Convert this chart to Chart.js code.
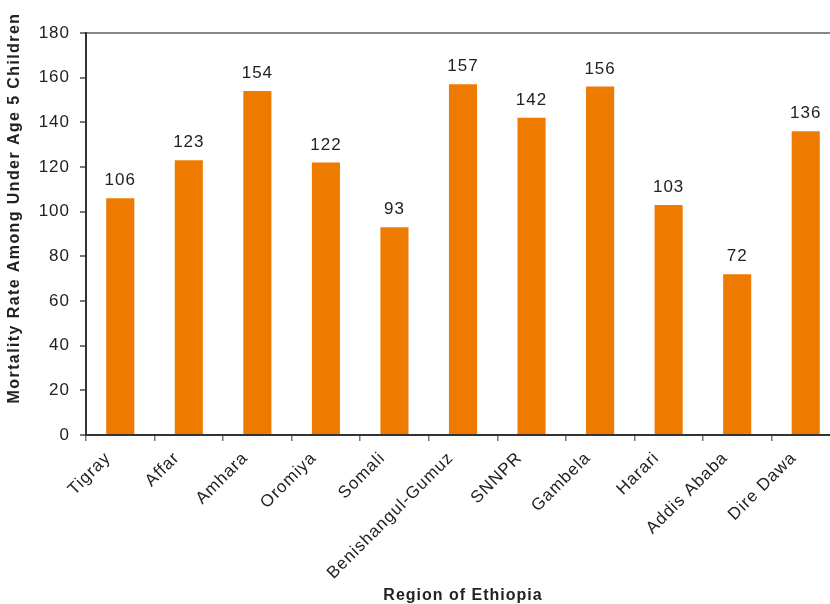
<!DOCTYPE html>
<html>
<head>
<meta charset="utf-8">
<title>Under-5 Mortality by Region</title>
<script src="https://cdn.jsdelivr.net/npm/chart.js@4/dist/chart.umd.min.js"></script>
<style>
  html, body { margin: 0; padding: 0; background: #fff; overflow: hidden; }
  #wrap { width: 830px; height: 604px; overflow: hidden; }
</style>
</head>
<body>
<div id="wrap"><canvas id="mortalityChart" width="850" height="604"></canvas></div>
<script>
  const regions = ['Tigray', 'Affar', 'Amhara', 'Oromiya', 'Somali', 'Benishangul-Gumuz',
                   'SNNPR', 'Gambela', 'Harari', 'Addis Ababa', 'Dire Dawa'];
  const mortality = [106, 123, 154, 122, 93, 157, 142, 156, 103, 72, 136];
  const yTicks = [0, 20, 40, 60, 80, 100, 120, 140, 160, 180];

  const FONT = "'Liberation Sans', Arial, sans-serif";

  // slightly airy lettering for all text on the canvas
  const spacing = {
    id: 'spacing',
    beforeDraw(chart) { chart.ctx.letterSpacing = '1px'; }
  };

  // value above each bar
  const barValues = {
    id: 'barValues',
    afterDatasetsDraw(chart) {
      const ctx = chart.ctx;
      ctx.save();
      ctx.font = '17px ' + FONT;
      ctx.fillStyle = '#222';
      ctx.textAlign = 'center';
      ctx.textBaseline = 'alphabetic';
      chart.getDatasetMeta(0).data.forEach((bar, i) => {
        ctx.fillText(mortality[i], bar.x, bar.y - 13);
      });
      ctx.restore();
    }
  };

  // y axis title, drawn by hand so it can sit a bit higher than the plot centre
  const yTitle = {
    id: 'yTitle',
    afterDraw(chart) {
      const ctx = chart.ctx;
      ctx.save();
      ctx.translate(15, 208);
      ctx.rotate(-Math.PI / 2);
      ctx.font = 'bold 16px ' + FONT;
      ctx.letterSpacing = '1.4px';
      ctx.fillStyle = '#222';
      ctx.textAlign = 'center';
      ctx.textBaseline = 'middle';
      ctx.fillText('Mortality Rate Among Under Age 5 Children', 0, 0);
      ctx.restore();
    }
  };

  const ctx = document.getElementById('mortalityChart').getContext('2d');
  const mortalityChart = new Chart(ctx, {
    type: 'bar',
    data: {
      labels: regions,
      datasets: [{
        data: mortality,
        backgroundColor: '#EE7B00',
        barPercentage: 0.41,
        categoryPercentage: 1
      }]
    },
    options: {
      responsive: false,
      animation: false,
      layout: { padding: { top: 33, right: 10, left: 0, bottom: 0 } },
      plugins: {
        legend: { display: false },
        tooltip: { enabled: false }
      },
      scales: {
        x: {
          grid: {
            offset: true,
            drawOnChartArea: false,
            tickLength: 6,
            tickColor: '#777',
            lineWidth: 1.5
          },
          border: { color: '#333', width: 2 },
          ticks: {
            color: '#222',
            font: { family: FONT, size: 17 },
            maxRotation: 45,
            minRotation: 45,
            autoSkip: false,
            padding: 7,
            labelOffset: -12
          },
          title: {
            display: true,
            text: 'Region of Ethiopia',
            color: '#222',
            font: { family: FONT, size: 16, weight: 'bold', lineHeight: 1 },
            padding: { top: 0, bottom: 0 }
          },
          afterFit(scale) { scale.height = 169; }
        },
        y: {
          min: 0,
          max: 180,
          afterBuildTicks(scale) { scale.ticks = yTicks.map(v => ({ value: v })); },
          grid: {
            color: c => (c.tick && c.tick.value === 180 ? '#888' : 'rgba(0,0,0,0)'),
            lineWidth: 2,
            tickLength: 6,
            tickColor: '#777'
          },
          border: { color: '#333', width: 2 },
          ticks: {
            color: '#222',
            font: { family: FONT, size: 17 },
            padding: 10
          },
          afterFit(scale) { scale.width = 86; }
        }
      }
    },
    plugins: [spacing, barValues, yTitle]
  });
</script>
</body>
</html>
